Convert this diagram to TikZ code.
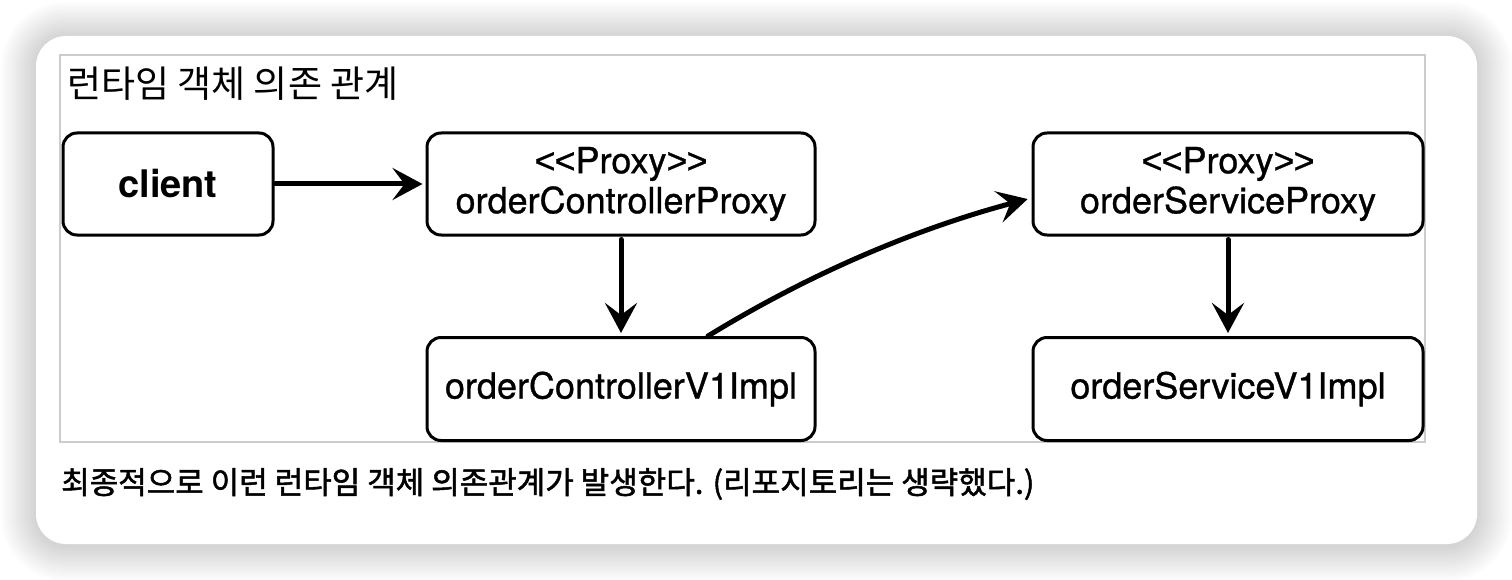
\documentclass[tikz,border=0pt]{standalone}
\usepackage{fontspec}
\setmainfont{TeX Gyre Heros}
\newfontfamily\boxfont{TeX Gyre Heros}[FakeBold=0.9]
\newfontfamily\ltfont{Liberation Sans}[FakeBold=0.9]
\newfontfamily\kr{Noto Sans CJK KR}
\newfontfamily\krb{Noto Sans CJK KR}[FakeBold=1.6]
\newcommand{\stereo}{{\ltfont<\kern-1pt<}Proxy{\ltfont>\kern-1pt>}}
\usetikzlibrary{arrows.meta,calc}
\begin{document}
\begin{tikzpicture}[x=1pt,y=-1pt,
  box/.style={draw=black, line width=3pt, rounded corners=14pt, fill=white,
    minimum width=388pt, minimum height=102pt, inner sep=0pt, align=center,
    font=\boxfont\fontsize{36}{40}\selectfont},
  conn/.style={line width=5pt, line cap=round,
    -{Stealth[length=30pt,width=32pt,inset=12pt]}},
]
\useasboundingbox (0,0) rectangle (1512,580);
\fill[white] (0,0) rectangle (1512,580);
\foreach \i in {1,...,14}
  \fill[black, opacity=0.012, rounded corners=30+\i*2.5]
    (36-\i*2.5,37-\i*2.5) rectangle (1477+\i*2.5,546+\i*2.5);
\fill[white, rounded corners=30pt] (36,36) rectangle (1477,544);
\draw[black!20, line width=2.5pt] (60,55) rectangle (1425,442);

\node[anchor=west, inner sep=0pt, font=\kr\fontsize{37}{42}\selectfont] (title) at (67,84) {런타임 객체 의존 관계};

\node[box, minimum width=210pt, font=\bfseries\fontsize{38}{40}\selectfont] (client) at (168,184) {client};
\node[box] (ctrlProxy) at (621,184) {\stereo\\orderControllerProxy};
\node[box, minimum height=103pt] (ctrlImpl) at (621,389) {orderControllerV1Impl};
\node[box, minimum width=390pt] (svcProxy) at (1228,184) {\stereo\\orderServiceProxy};
\node[box, minimum width=390pt, minimum height=103pt] (svcImpl) at (1228,389) {orderServiceV1Impl};

\draw[conn, shorten <=1pt, shorten >=3pt] (client.east) -- (ctrlProxy.west);
\draw[conn, shorten <=3pt, shorten >=3pt] (ctrlProxy.south) -- (ctrlImpl.north);
\draw[conn, shorten <=3pt, shorten >=3pt] (svcProxy.south) -- (svcImpl.north);
\coordinate (cs) at ([xshift=87pt]ctrlImpl.north);
\coordinate (ce) at ([yshift=-14pt]svcProxy.west);
\draw[conn, shorten >=4pt] (cs) .. controls (809,274) and (915,229) .. (ce);

\node[anchor=west, inner sep=0pt, font=\krb\fontsize{31}{36}\selectfont] (cap) at (61,484) {최종적으로 이런 런타임 객체 의존관계가 발생한다. (리포지토리는 생략했다.)};
\end{tikzpicture}
\end{document}
